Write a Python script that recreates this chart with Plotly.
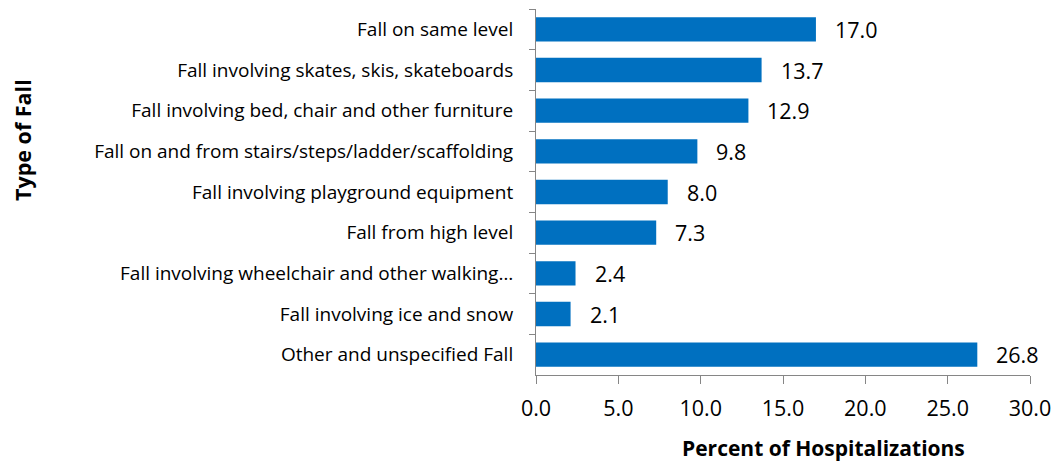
import plotly.graph_objects as go

# categories listed top to bottom as in the chart
fall_types = [
    "Fall on same level",
    "Fall involving skates, skis, skateboards",
    "Fall involving bed, chair and other furniture",
    "Fall on and from stairs/steps/ladder/scaffolding",
    "Fall involving playground equipment",
    "Fall from high level",
    "Fall involving wheelchair and other walking…",
    "Fall involving ice and snow",
    "Other and unspecified Fall",
]
percent = [17.0, 13.7, 12.9, 9.8, 8.0, 7.3, 2.4, 2.1, 26.8]
x_ticks = [0, 5, 10, 15, 20, 25, 30]
x_tick_labels = ["0.0", "5.0", "10.0", "15.0", "20.0", "25.0", "30.0"]

font_family = "Open Sans, Noto Sans, sans-serif"
axis_grey = "#868686"

W, H = 1060, 464
L, R, T, B = 536, 30, 9, 89
plot_w = W - L - R
plot_h = H - T - B

fig = go.Figure()
fig.add_trace(go.Bar(
    x=percent, y=fall_types, orientation="h",
    marker=dict(color="#0070C0", line=dict(width=0)),
    width=0.6,
))

# value labels to the right of each bar
for cat, val in zip(fall_types, percent):
    fig.add_annotation(x=val, y=cat, text=f"{val:.1f}", showarrow=False,
                       xanchor="left", xshift=17,
                       font=dict(size=21.5, color="black", family=font_family))

fig.update_layout(
    width=W, height=H,
    margin=dict(l=L, r=R, t=T, b=B, autoexpand=False),
    plot_bgcolor="white", paper_bgcolor="white",
    showlegend=False,
    font=dict(family=font_family, color="black"),
)
fig.update_xaxes(
    range=[0, 30], tickvals=x_ticks, ticktext=x_tick_labels,
    showgrid=False, zeroline=False,
    showline=True, linecolor=axis_grey, linewidth=1,
    ticks="outside", ticklen=8, tickcolor=axis_grey,
    tickfont=dict(size=21.5), ticklabelstandoff=6,
)
fig.update_yaxes(
    categoryorder="array", categoryarray=fall_types, autorange="reversed",
    showgrid=False, zeroline=False,
    showline=True, linecolor=axis_grey, linewidth=1,
    ticks="outside", ticklen=6, tickcolor=axis_grey, tickson="boundaries",
    tickfont=dict(size=19), ticklabelstandoff=18,
)

# axis titles placed as annotations to match the original's offsets
fig.add_annotation(text="<b>Percent of Hospitalizations</b>", xref="paper", yref="paper",
                   x=(823.5 - L) / plot_w, y=-(448 - T - plot_h) / plot_h,
                   showarrow=False, xanchor="center", yanchor="middle",
                   font=dict(size=21, family=font_family))
fig.add_annotation(text="<b>Type of Fall</b>", xref="paper", yref="paper",
                   x=(22 - L) / plot_w, y=1 - (140 - T) / plot_h,
                   textangle=-90, showarrow=False,
                   xanchor="center", yanchor="middle",
                   font=dict(size=21.5, family=font_family))

# drop the default body margin so the figure fills the window exactly
fig.write_html("out.html", config={"displayModeBar": False},
               post_script="document.body.style.margin='0';")
